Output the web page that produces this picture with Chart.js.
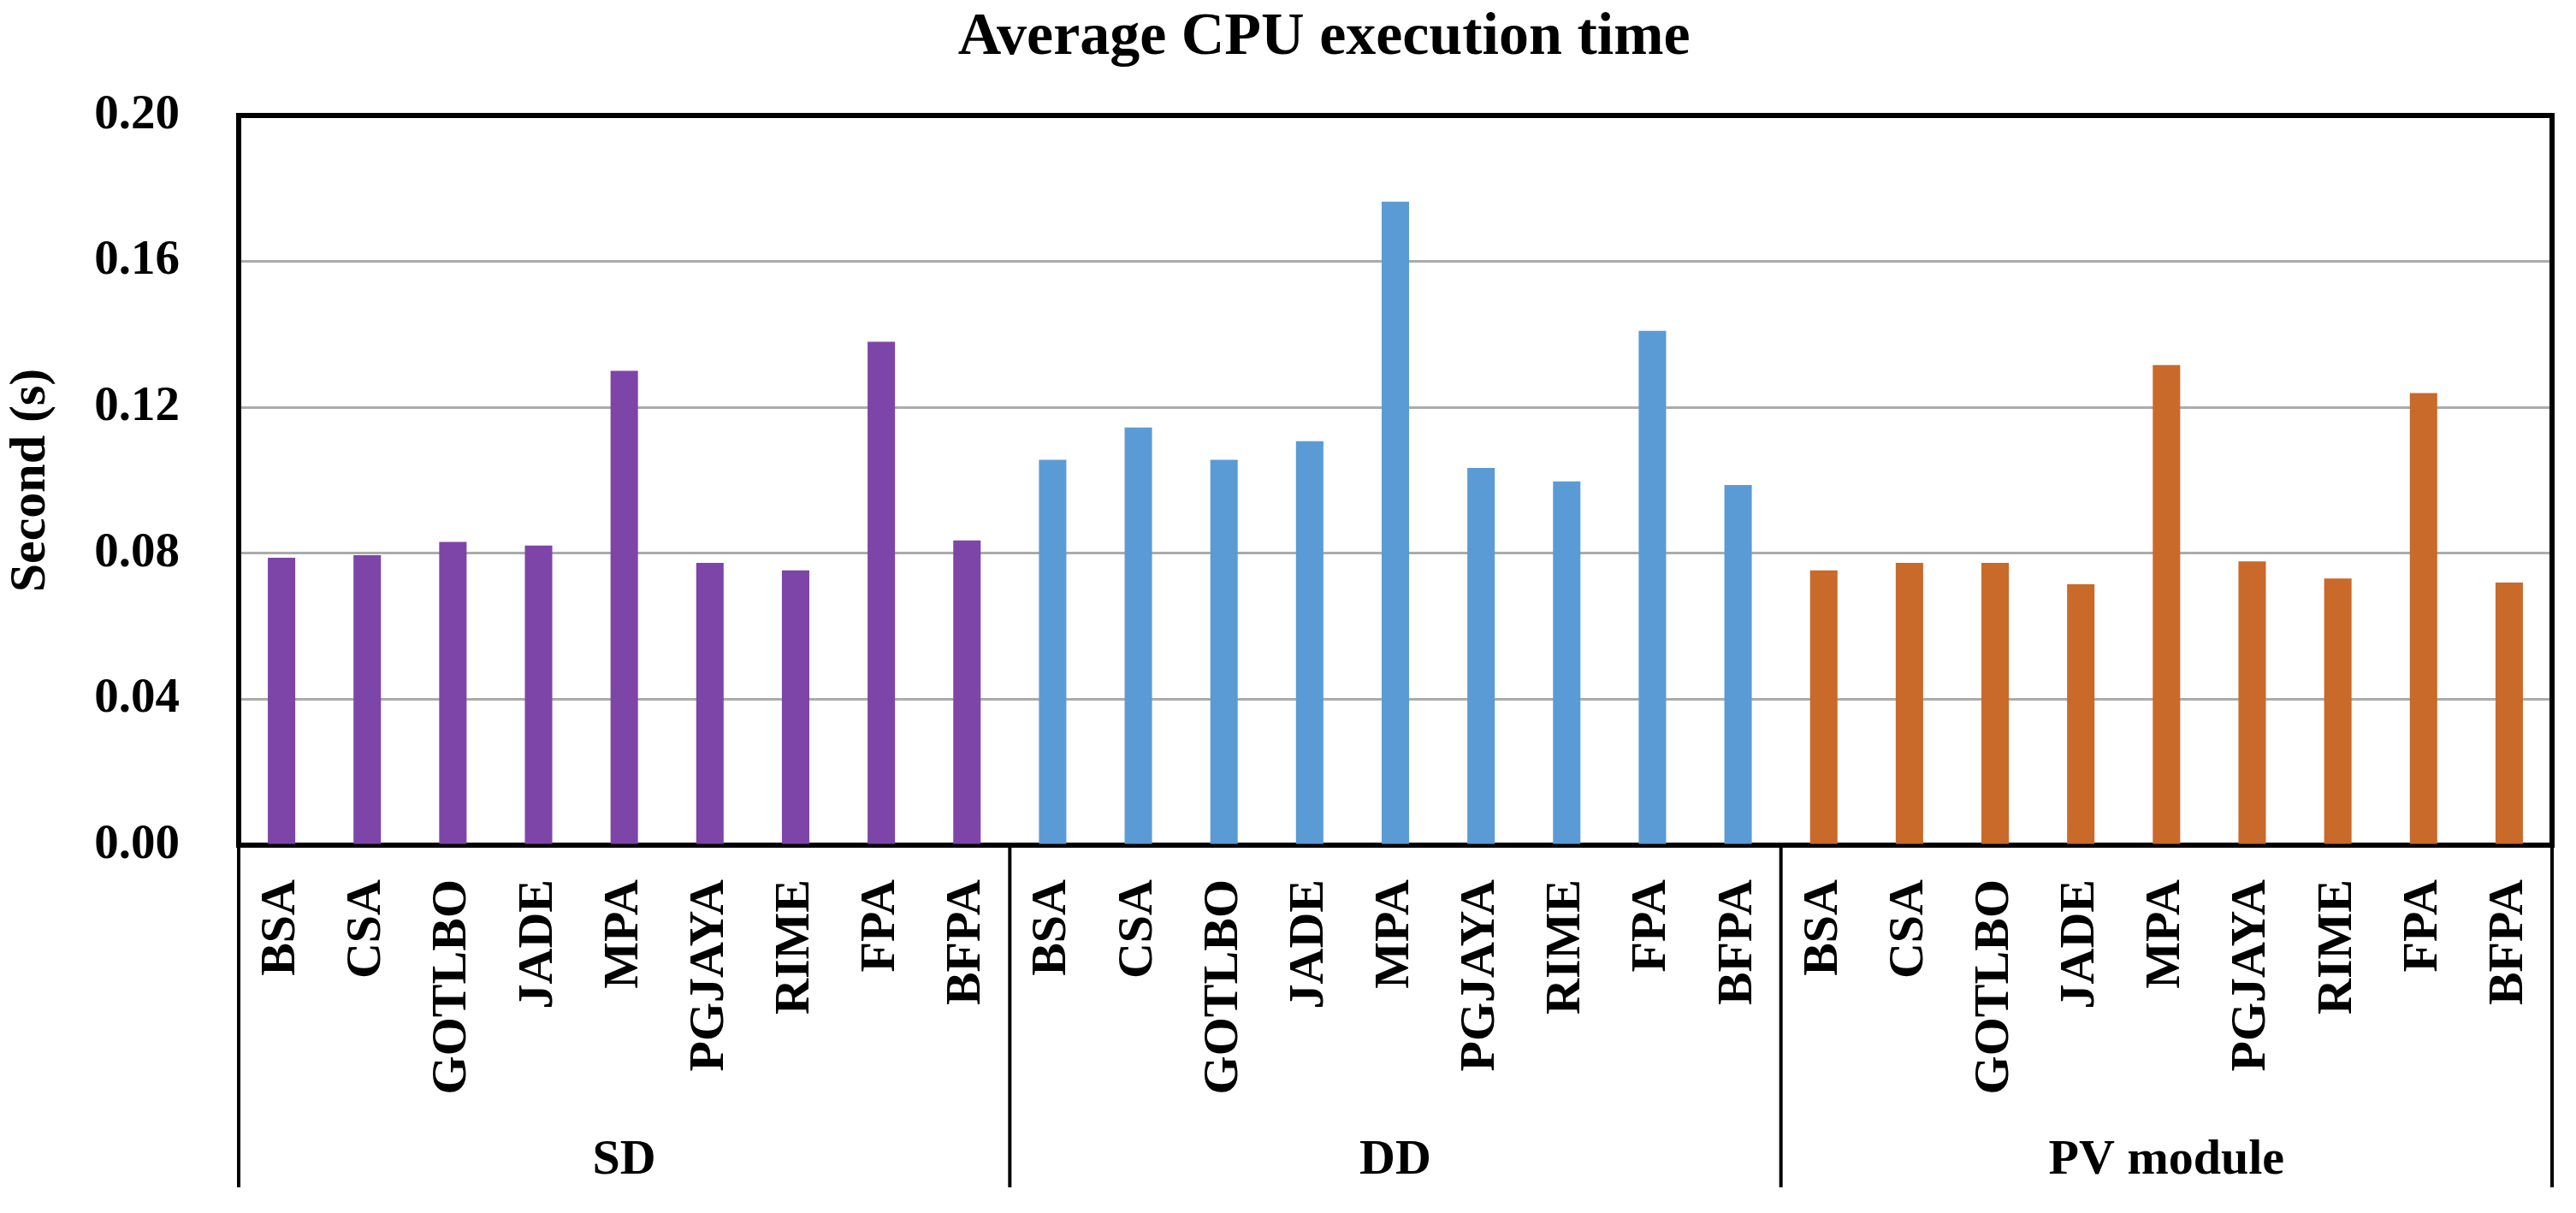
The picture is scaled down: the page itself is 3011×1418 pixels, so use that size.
<!DOCTYPE html>
<html lang="en">
<head>
<meta charset="UTF-8">
<title>Average CPU execution time</title>
<style>
    html, body { margin: 0; padding: 0; background: #ffffff; }
    #cpuChart { display: block; }
</style>
</head>
<body>
<canvas id="cpuChart" width="3011" height="1418"></canvas>

<script src="https://cdn.jsdelivr.net/npm/chart.js"></script>
<script>
    // values
    const algorithms = ['BSA', 'CSA', 'GOTLBO', 'JADE', 'MPA', 'PGJAYA', 'RIME', 'FPA', 'BFPA'];
    const groups = ['SD', 'DD', 'PV module'];
    const sdTimes = [0.0788, 0.0795, 0.0831, 0.0821, 0.1300, 0.0774, 0.0753, 0.1380, 0.0835];
    const ddTimes = [0.1056, 0.1145, 0.1056, 0.1107, 0.1764, 0.1034, 0.0997, 0.1410, 0.0987];
    const pvTimes = [0.0753, 0.0774, 0.0774, 0.0715, 0.1316, 0.0778, 0.0731, 0.1239, 0.0720];
    const groupColors = ['#7E45A9', '#5B9BD5', '#C9692A'];

    const serif = "'Liberation Serif', 'Times New Roman', serif";

    const labels = [...algorithms, ...algorithms, ...algorithms];
    const values = [...sdTimes, ...ddTimes, ...pvTimes];
    const colors = labels.map((_, i) => groupColors[Math.floor(i / algorithms.length)]);

    // frame on top/right, group separators and group names under the axis, title
    const frameAndGroups = {
        id: 'frameAndGroups',
        afterDraw(chart) {
            const ctx = chart.ctx;
            const a = chart.chartArea;
            const x = chart.scales.x;
            ctx.save();

            ctx.strokeStyle = '#000';
            ctx.lineWidth = 6;
            ctx.beginPath();
            ctx.moveTo(a.left - 3, a.top);
            ctx.lineTo(a.right, a.top);
            ctx.lineTo(a.right, a.bottom + 3);
            ctx.stroke();

            const n = algorithms.length;
            const half = (x.getPixelForTick(1) - x.getPixelForTick(0)) / 2;
            ctx.lineWidth = 4;
            for (let g = 0; g <= groups.length; g++) {
                let px;
                if (g < groups.length) px = x.getPixelForTick(g * n) - half;
                else px = x.getPixelForTick(g * n - 1) + half;
                ctx.beginPath();
                ctx.moveTo(px, a.bottom);
                ctx.lineTo(px, a.bottom + 400);
                ctx.stroke();
            }

            ctx.fillStyle = '#000';
            ctx.font = 'bold 58px ' + serif;
            ctx.textAlign = 'center';
            ctx.textBaseline = 'middle';
            groups.forEach((name, g) => {
                const cx = (x.getPixelForTick(g * n) + x.getPixelForTick(g * n + n - 1)) / 2;
                ctx.fillText(name, cx, a.bottom + 369);
            });

            ctx.font = 'bold 70px ' + serif;
            ctx.fillText('Average CPU execution time', chart.width * 0.514, 45);
            ctx.restore();
        }
    };

    const ctx = document.getElementById('cpuChart').getContext('2d');
    const cpuChart = new Chart(ctx, {
        type: 'bar',
        data: {
            labels: labels,
            datasets: [{
                label: 'Average CPU execution time',
                data: values,
                backgroundColor: colors,
                borderWidth: 0,
                categoryPercentage: 1,
                barPercentage: 0.32
            }]
        },
        options: {
            responsive: false,
            devicePixelRatio: 1,
            animation: false,
            layout: { padding: { top: 135, right: 28, left: 0, bottom: 0 } },
            plugins: {
                legend: { display: false },
                title: { display: false },
                tooltip: { enabled: false }
            },
            scales: {
                x: {
                    grid: { display: false, drawTicks: false },
                    border: { color: '#000', width: 6 },
                    ticks: {
                        autoSkip: false,
                        minRotation: 90,
                        maxRotation: 90,
                        padding: 40,
                        color: '#000',
                        font: { family: serif, size: 58, weight: 'bold' }
                    },
                    afterFit(scale) {
                        scale.height = 430;
                        scale.paddingLeft = 0;
                        scale.paddingRight = 0;
                    }
                },
                y: {
                    min: 0,
                    max: 0.2,
                    grid: { color: '#ABABAB', lineWidth: 3, drawTicks: false },
                    border: { color: '#000', width: 6 },
                    ticks: {
                        stepSize: 0.04,
                        padding: 69,
                        color: '#000',
                        font: { family: serif, size: 57, weight: 'bold' },
                        callback: v => v.toFixed(2)
                    },
                    title: {
                        display: true,
                        text: 'Second (s)',
                        color: '#000',
                        padding: 0,
                        font: { family: serif, size: 60, weight: 'bold' }
                    },
                    afterFit(scale) { scale.width = 279; }
                }
            }
        },
        plugins: [frameAndGroups]
    });
</script>
</body>
</html>
